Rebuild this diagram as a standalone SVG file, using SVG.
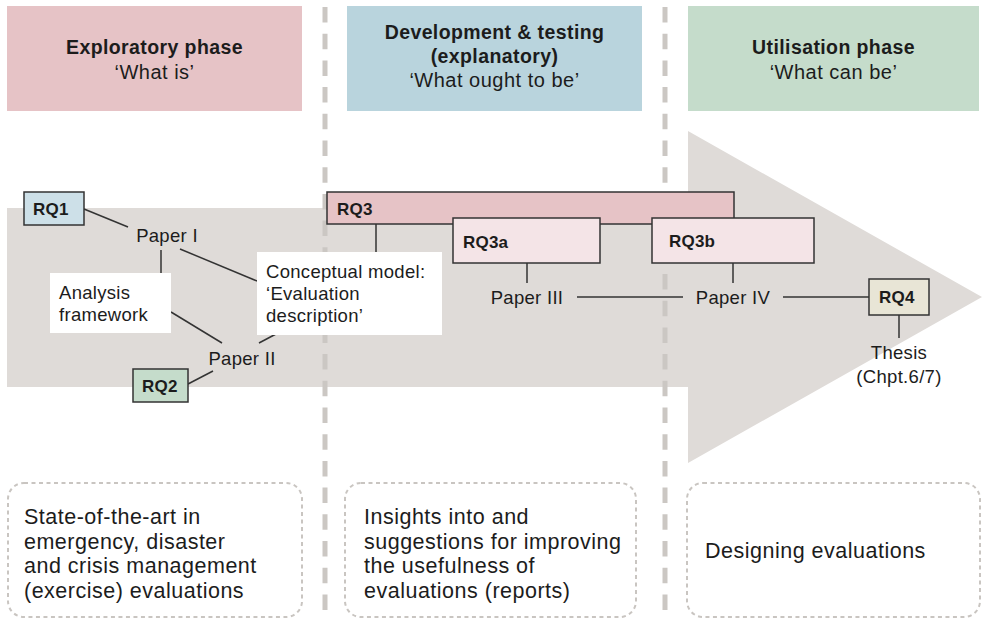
<svg xmlns="http://www.w3.org/2000/svg" width="982" height="619" viewBox="0 0 982 619">
  <style>
    text { font-family: "Liberation Sans", Arial, sans-serif; fill: #1c1c1c; }
    .hb { font-size: 19.5px; font-weight: bold; letter-spacing: 0.4px; text-anchor: middle; }
    .hr { font-size: 20px; letter-spacing: 0.5px; text-anchor: middle; }
    .rq { font-size: 17px; font-weight: bold; letter-spacing: 0.2px; }
    .lbl { font-size: 18.5px; letter-spacing: 0.3px; }
    .mid { text-anchor: middle; }
    .out { font-size: 21.5px; letter-spacing: 0.5px; }
    .box { stroke: #333; stroke-width: 1.5; }
    .note { fill: #ffffff; }
    .link { stroke: #333; stroke-width: 1.5; fill: none; }
    .divider { stroke: #cbc7c3; stroke-width: 5; stroke-dasharray: 15.5 11.2; stroke-dashoffset: -7; }
    .result { fill: none; stroke: #c9c5c1; stroke-width: 2; stroke-dasharray: 4 3.5; }
  </style>

  <!-- phase headers -->
  <g id="phase-exploratory">
    <rect x="7" y="6" width="295" height="105" fill="#e6c3c6"/>
    <text class="hb" x="154.5" y="54">Exploratory phase</text>
    <text class="hr" x="154.5" y="79">‘What is’</text>
  </g>
  <g id="phase-development">
    <rect x="347" y="6" width="295" height="105" fill="#b9d4dd"/>
    <text class="hb" x="494.5" y="39">Development &amp; testing</text>
    <text class="hb" x="494.5" y="63">(explanatory)</text>
    <text class="hr" x="494.5" y="87">‘What ought to be’</text>
  </g>
  <g id="phase-utilisation">
    <rect x="688" y="6" width="291" height="105" fill="#c5dccb"/>
    <text class="hb" x="833.5" y="54">Utilisation phase</text>
    <text class="hr" x="833.5" y="79">‘What can be’</text>
  </g>

  <!-- progress arrow -->
  <polygon id="progress-arrow" points="7,208 688,208 688,131 982,297 688,463 688,387 7,387" fill="#dfdbd8"/>

  <!-- phase dividers -->
  <g id="dividers">
    <line class="divider" x1="325" y1="0" x2="325" y2="619"/>
    <line class="divider" x1="665" y1="0" x2="665" y2="619"/>
  </g>

  <!-- connectors -->
  <g id="connectors">
    <line class="link" x1="84" y1="209" x2="128" y2="227"/>
    <line class="link" x1="161" y1="250" x2="161" y2="273"/>
    <line class="link" x1="180" y1="249" x2="257" y2="281"/>
    <line class="link" x1="171" y1="312" x2="222" y2="343"/>
    <line class="link" x1="259" y1="343" x2="276" y2="334"/>
    <line class="link" x1="188" y1="384" x2="213" y2="371"/>
    <line class="link" x1="376" y1="224" x2="376" y2="252"/>
    <line class="link" x1="527" y1="263" x2="527" y2="283"/>
    <line class="link" x1="577" y1="297" x2="683" y2="297"/>
    <line class="link" x1="733" y1="263" x2="733" y2="283"/>
    <line class="link" x1="783" y1="297" x2="869" y2="297"/>
    <line class="link" x1="899" y1="315" x2="899" y2="338"/>
  </g>

  <!-- exploratory nodes -->
  <g id="rq1">
    <rect class="box" x="24" y="192" width="60" height="33" fill="#cde0e8"/>
    <text class="rq" x="33" y="215">RQ1</text>
  </g>
  <g id="paper-1">
    <text class="lbl mid" x="167" y="242">Paper I</text>
  </g>
  <g id="analysis-framework">
    <rect class="note" x="50" y="273" width="121" height="60"/>
    <text class="lbl" x="59" y="299">Analysis</text>
    <text class="lbl" x="59" y="321">framework</text>
  </g>
  <g id="conceptual-model">
    <rect class="note" x="257" y="252" width="185" height="83"/>
    <text class="lbl" x="266" y="278">Conceptual model:</text>
    <text class="lbl" x="266" y="300">‘Evaluation</text>
    <text class="lbl" x="266" y="322">description’</text>
  </g>
  <g id="paper-2">
    <text class="lbl mid" x="242" y="365">Paper II</text>
  </g>
  <g id="rq2">
    <rect class="box" x="133" y="369" width="55" height="33" fill="#c5dccb"/>
    <text class="rq" x="142" y="392">RQ2</text>
  </g>

  <!-- development nodes -->
  <g id="rq3">
    <rect class="box" x="327" y="192" width="407" height="32" fill="#e6c3c6"/>
    <text class="rq" x="337" y="215">RQ3</text>
  </g>
  <g id="rq3a">
    <rect class="box" x="453" y="218" width="147" height="45" fill="#f4e4e7"/>
    <text class="rq" x="463" y="248">RQ3a</text>
  </g>
  <g id="rq3b">
    <rect class="box" x="652" y="218" width="162" height="45" fill="#f4e4e7"/>
    <text class="rq" x="669" y="247">RQ3b</text>
  </g>
  <g id="paper-3">
    <text class="lbl mid" x="527" y="304">Paper III</text>
  </g>
  <g id="paper-4">
    <text class="lbl mid" x="733" y="304">Paper IV</text>
  </g>

  <!-- utilisation nodes -->
  <g id="rq4">
    <rect class="box" x="869" y="279" width="60" height="36" fill="#e8e5d6"/>
    <text class="rq" x="879" y="303">RQ4</text>
  </g>
  <g id="thesis">
    <text class="lbl mid" x="899" y="359">Thesis</text>
    <text class="lbl mid" x="899" y="383">(Chpt.6/7)</text>
  </g>

  <!-- phase outcomes -->
  <g id="outcome-exploratory">
    <rect class="result" x="8" y="483" width="294" height="134" rx="16"/>
    <text class="out" x="24" y="524">State-of-the-art in</text>
    <text class="out" x="24" y="548.5">emergency, disaster</text>
    <text class="out" x="24" y="573">and crisis management</text>
    <text class="out" x="24" y="597.5">(exercise) evaluations</text>
  </g>
  <g id="outcome-development">
    <rect class="result" x="345" y="483" width="291" height="134" rx="16"/>
    <text class="out" x="364" y="524">Insights into and</text>
    <text class="out" x="364" y="548.5">suggestions for improving</text>
    <text class="out" x="364" y="573">the usefulness of</text>
    <text class="out" x="364" y="597.5">evaluations (reports)</text>
  </g>
  <g id="outcome-utilisation">
    <rect class="result" x="687" y="483" width="293" height="134" rx="16"/>
    <text class="out" x="705" y="558">Designing evaluations</text>
  </g>
</svg>
